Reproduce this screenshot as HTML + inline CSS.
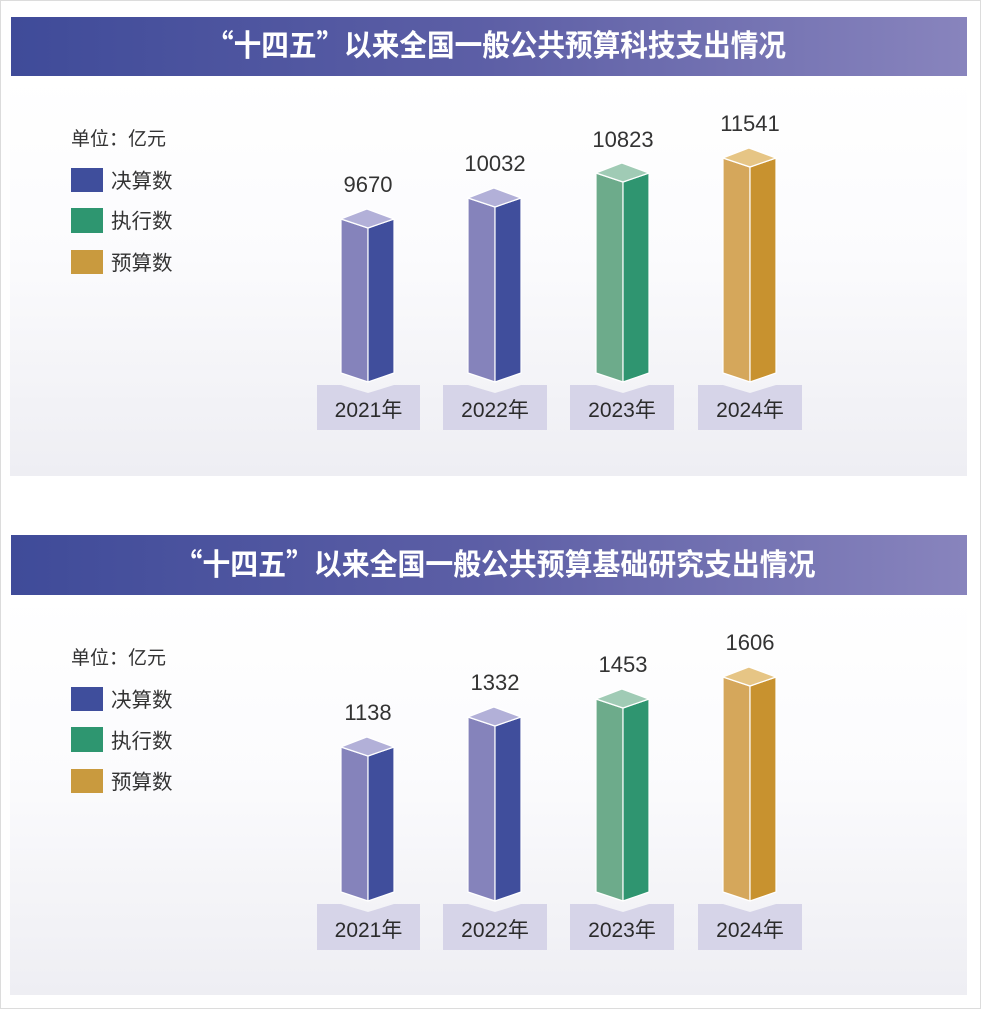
<!DOCTYPE html>
<html>
<head>
<meta charset="utf-8">
<style>
html,body{margin:0;padding:0;background:#fff;}
svg{display:block;}
.t{font-family:"Liberation Sans","Noto Sans CJK SC",sans-serif;}
.q{font-family:"Noto Sans CJK SC","Liberation Sans",sans-serif;}
</style>
</head>
<body>
<svg width="981" height="1009" viewBox="0 0 981 1009" xmlns="http://www.w3.org/2000/svg">
<defs>
<linearGradient id="ban" x1="0" y1="0" x2="1" y2="0">
<stop offset="0" stop-color="#3f4b99"/>
<stop offset="0.5" stop-color="#5d5fa6"/>
<stop offset="1" stop-color="#8884bd"/>
</linearGradient>
<linearGradient id="pan" x1="0" y1="0" x2="0" y2="1">
<stop offset="0" stop-color="#ffffff"/>
<stop offset="0.45" stop-color="#fbfbfd"/>
<stop offset="1" stop-color="#eeeef3"/>
</linearGradient>
</defs>
<rect x="0" y="0" width="981" height="1009" fill="#ffffff"/>
<rect x="0.5" y="0.5" width="980" height="1008" fill="none" stroke="#dcdcdc"/>

<!-- ===== Chart 1 ===== -->
<rect x="10" y="76" width="957" height="400" fill="url(#pan)"/>
<rect x="11" y="17" width="956" height="59" fill="url(#ban)"/>
<text class="t" x="496" y="56" text-anchor="middle" font-size="30" font-weight="bold" fill="#ffffff" textLength="580" lengthAdjust="spacingAndGlyphs"><tspan class="q">“</tspan>十四五<tspan class="q">”</tspan>以来全国一般公共预算科技支出情况</text>

<text class="t" x="71" y="145" font-size="19" fill="#333">单位：亿元</text>
<rect x="71" y="168" width="32" height="24" fill="#3f4e9c"/>
<rect x="71" y="208" width="32" height="25" fill="#2e9670"/>
<rect x="71" y="250" width="32" height="24" fill="#c99a3e"/>
<text class="t" x="111" y="188" font-size="20.5" fill="#333">决算数</text>
<text class="t" x="111" y="228" font-size="20.5" fill="#333">执行数</text>
<text class="t" x="111" y="270" font-size="20.5" fill="#333">预算数</text>

<g stroke="#ffffff" stroke-width="1.2" stroke-linejoin="round">
<polygon points="341,219 368,228 368,382 341,373" fill="#8583bb"/>
<polygon points="368,228 394,219 394,373 368,382" fill="#404e9c"/>
<polygon points="341,219 367,209 394,219 368,228" fill="#b2b0d8"/>

<polygon points="468,198 495,207 495,382 468,373" fill="#8583bb"/>
<polygon points="495,207 521,198 521,373 495,382" fill="#404e9c"/>
<polygon points="468,198 494,188 521,198 495,207" fill="#b2b0d8"/>

<polygon points="596,173 623,182 623,382 596,373" fill="#6dab8b"/>
<polygon points="623,182 649,173 649,373 623,382" fill="#2f9570"/>
<polygon points="596,173 622,163 649,173 623,182" fill="#a0cbb5"/>

<polygon points="723,158 750,167 750,382 723,373" fill="#d5a75b"/>
<polygon points="750,167 776,158 776,373 750,382" fill="#c8922f"/>
<polygon points="723,158 749,148 776,158 750,167" fill="#e6c585"/>
</g>

<g class="t" font-size="22" fill="#333" text-anchor="middle">
<text x="368" y="192">9670</text>
<text x="495" y="171">10032</text>
<text x="623" y="147">10823</text>
<text x="750" y="131">11541</text>
</g>

<g fill="#d6d4e8">
<polygon points="317,385 341,385 368,393 394,385 420,385 420,430 317,430"/>
<polygon points="443,385 468,385 495,393 521,385 547,385 547,430 443,430"/>
<polygon points="570,385 596,385 623,393 649,385 674,385 674,430 570,430"/>
<polygon points="698,385 723,385 750,393 776,385 802,385 802,430 698,430"/>
</g>
<g class="t" font-size="21" fill="#2b2b2b" text-anchor="middle">
<text x="368.5" y="417">2021年</text>
<text x="495" y="417">2022年</text>
<text x="622" y="417">2023年</text>
<text x="750" y="417">2024年</text>
</g>

<!-- ===== Chart 2 ===== -->
<rect x="10" y="595" width="957" height="400" fill="url(#pan)"/>
<rect x="11" y="535" width="956" height="60" fill="url(#ban)"/>
<text class="t" x="495" y="575" text-anchor="middle" font-size="30" font-weight="bold" fill="#ffffff" textLength="641" lengthAdjust="spacingAndGlyphs"><tspan class="q">“</tspan>十四五<tspan class="q">”</tspan>以来全国一般公共预算基础研究支出情况</text>

<text class="t" x="71" y="664" font-size="19" fill="#333">单位：亿元</text>
<rect x="71" y="687" width="32" height="24" fill="#3f4e9c"/>
<rect x="71" y="727" width="32" height="25" fill="#2e9670"/>
<rect x="71" y="769" width="32" height="24" fill="#c99a3e"/>
<text class="t" x="111" y="707" font-size="20.5" fill="#333">决算数</text>
<text class="t" x="111" y="748" font-size="20.5" fill="#333">执行数</text>
<text class="t" x="111" y="789" font-size="20.5" fill="#333">预算数</text>

<g stroke="#ffffff" stroke-width="1.2" stroke-linejoin="round">
<polygon points="341,747 368,756 368,901 341,892" fill="#8583bb"/>
<polygon points="368,756 394,747 394,892 368,901" fill="#404e9c"/>
<polygon points="341,747 367,737 394,747 368,756" fill="#b2b0d8"/>

<polygon points="468,717 495,726 495,901 468,892" fill="#8583bb"/>
<polygon points="495,726 521,717 521,892 495,901" fill="#404e9c"/>
<polygon points="468,717 494,707 521,717 495,726" fill="#b2b0d8"/>

<polygon points="596,699 623,708 623,901 596,892" fill="#6dab8b"/>
<polygon points="623,708 649,699 649,892 623,901" fill="#2f9570"/>
<polygon points="596,699 622,689 649,699 623,708" fill="#a0cbb5"/>

<polygon points="723,677 750,686 750,901 723,892" fill="#d5a75b"/>
<polygon points="750,686 776,677 776,892 750,901" fill="#c8922f"/>
<polygon points="723,677 749,667 776,677 750,686" fill="#e6c585"/>
</g>

<g class="t" font-size="22" fill="#333" text-anchor="middle">
<text x="368" y="720">1138</text>
<text x="495" y="690">1332</text>
<text x="623" y="672">1453</text>
<text x="750" y="650">1606</text>
</g>

<g fill="#d6d4e8">
<polygon points="317,904 341,904 368,912 394,904 420,904 420,950 317,950"/>
<polygon points="443,904 468,904 495,912 521,904 547,904 547,950 443,950"/>
<polygon points="570,904 596,904 623,912 649,904 674,904 674,950 570,950"/>
<polygon points="698,904 723,904 750,912 776,904 802,904 802,950 698,950"/>
</g>
<g class="t" font-size="21" fill="#2b2b2b" text-anchor="middle">
<text x="368.5" y="937">2021年</text>
<text x="495" y="937">2022年</text>
<text x="622" y="937">2023年</text>
<text x="750" y="937">2024年</text>
</g>
</svg>
</body>
</html>
